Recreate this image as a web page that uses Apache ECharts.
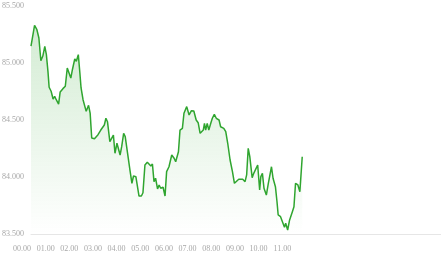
<!DOCTYPE html>
<html>
<head>
<meta charset="utf-8">
<script src="https://cdn.jsdelivr.net/npm/echarts@6/dist/echarts.min.js"></script>
<style>html,body{margin:0;padding:0;background:#fff}#c{width:441px;height:255px}</style>
</head>
<body>
<div id="c"></div>
<script>
// minutes since 00:00
var minutes = [0,9,15,20,25,30,35,39,43,46,51,56,60,64,70,74,81,87,92,95,101,105,111,115,120,124,127,132,136,140,146,150,154,161,170,
173,177,182,186,190,194,200,205,209,213,218,222,226,230,235,239,245,251,256,260,266,270,274,280,284,289,295,299,304,308,312,316,321,325,329,335,340,344,350,
352,357,363,367,374,378,384,388,395,401,407,413,419,424,429,433,437,440,443,447,451,456,460,465,470,477,481,485,489,494,499,505,511,516,521,527,
532,537,543,547,551,555,561,565,570,575,580,583,587,591,597,602,606,610,614,620,624,627,633,637,643,646,651,656,663,667,671,677,682,688];
var prices = [85147,85331,85292,85219,85020,85061,85146,85073,84927,84787,84752,84684,84708,84678,84640,84746,84775,84796,84956,84971,84868,84941,85035,85015,85073,84912,84781,84678,84669,84576,84629,84561,84342,84336,84371,
84383,84412,84397,84456,84515,84485,84310,84304,84368,84208,84296,84310,84193,84266,84383,84354,84208,84061,83945,84009,84003,83997,83833,83833,83862,84105,84129,84120,84096,84114,83959,83989,83895,83930,83901,83910,83833,84047,84090,
84076,84193,84164,84134,84222,84412,84427,84559,84617,84544,84582,84579,84500,84476,84383,84375,84412,84471,84412,84471,84412,84471,84515,84550,84515,84500,84441,84427,84427,84397,84296,84149,84047,83945,83930,83980,
83989,83980,83959,84018,84252,84178,83994,84032,84041,84105,83886,84003,84032,83901,83842,83945,83959,84090,83989,83915,83783,83667,83652,83643,83559,83594,83535,83623,83696,83739,83945,83930,83871,84178];
var xTickLabels = ['00.00','01.00','02.00','03.00','04.00','05.00','06.00','07.00','08.00','09.00','10.00','11.00'];
var yMin = 83500, yMax = 85500, yStep = 500;
var xMax = 1040;

var data = minutes.map(function (m, i) { return [m, prices[i]]; });
var chart = echarts.init(document.getElementById('c'), null, {renderer: 'canvas'});
var labelFont = {color: '#a8a8a8', fontFamily: 'Liberation Serif', fontSize: 8};
chart.setOption({
  animation: false,
  grid: {left: 31, right: 0, top: 6, bottom: 21, containLabel: false, outerBoundsMode: 'none'},
  xAxis: {
    type: 'value', min: 0, max: xMax, interval: 60,
    axisLine: {show: true, lineStyle: {color: '#e6e6e6', width: 1}},
    axisTick: {show: false},
    splitLine: {show: false},
    axisLabel: Object.assign({
      align: 'right', margin: 11, showMaxLabel: false,
      formatter: function (v) { var i = Math.round(v / 60); return xTickLabels[i] || ''; }
    }, labelFont)
  },
  yAxis: {
    type: 'value', min: yMin, max: yMax, interval: yStep,
    axisLine: {show: false}, axisTick: {show: false}, splitLine: {show: false},
    axisLabel: Object.assign({
      margin: 7,
      formatter: function (v) { var s = String(v); return s.slice(0, s.length - 3) + '.' + s.slice(-3); }
    }, labelFont)
  },
  series: [{
    type: 'line', data: data, symbol: 'none', smooth: false,
    lineStyle: {color: '#2fa52f', width: 1.5},
    itemStyle: {color: '#2fa52f'},
    areaStyle: {
      color: new echarts.graphic.LinearGradient(0, 0, 0, 1, [
        {offset: 0, color: 'rgba(47,165,47,0.30)'},
        {offset: 1, color: 'rgba(47,165,47,0.0)'}
      ])
    }
  }]
});
</script>
</body>
</html>
